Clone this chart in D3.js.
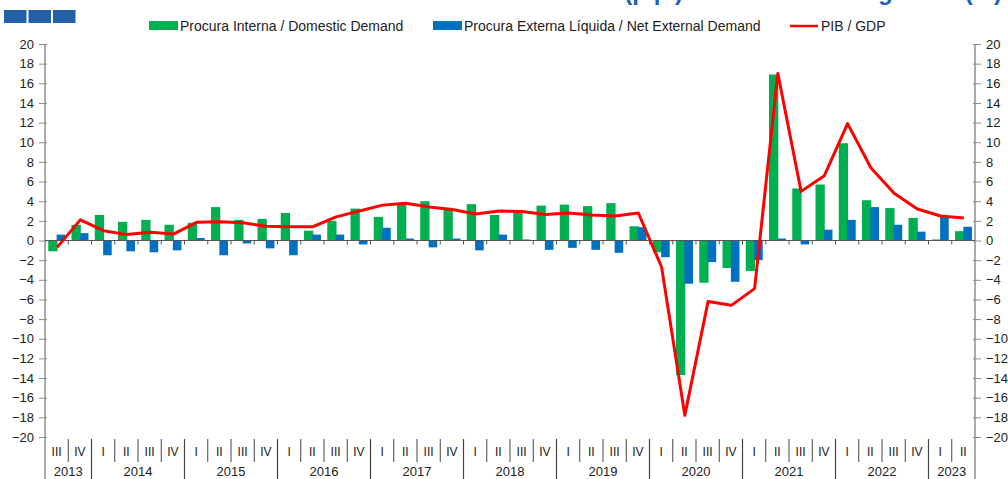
<!DOCTYPE html>
<html>
<head>
<meta charset="utf-8">
<script src="https://cdn.jsdelivr.net/npm/d3@7"></script>
<style>
  body { margin: 0; background: #fff; }
  svg { display: block; font-family: "Liberation Sans", Arial, sans-serif; }
</style>
</head>
<body>
<div class="chartWrapper"></div>
<script>
const width = 1008, height = 479;

// quarters from 2013 III to 2023 II
const quarterLabels = [
  "III", "IV",
  "I", "II", "III", "IV", "I", "II", "III", "IV", "I", "II", "III", "IV",
  "I", "II", "III", "IV", "I", "II", "III", "IV", "I", "II", "III", "IV",
  "I", "II", "III", "IV", "I", "II", "III", "IV", "I", "II", "III", "IV",
  "I", "II"
];
const yearLabels = ["2013", "2014", "2015", "2016", "2017", "2018", "2019", "2020", "2021", "2022", "2023"];
const quartersInYear = [2, 4, 4, 4, 4, 4, 4, 4, 4, 4, 2];

const domesticDemand = [
  -1.1, 1.6,
  2.6, 1.9, 2.1, 1.6,
  1.8, 3.4, 2.1, 2.2,
  2.8, 1.0, 2.0, 3.25,
  2.4, 3.7, 4.0, 3.2,
  3.7, 2.6, 2.9, 3.55,
  3.65, 3.5, 3.8, 1.45,
  -1.2, -13.7, -4.3, -2.8,
  -3.1, 16.9, 5.3, 5.7,
  9.9, 4.1, 3.3, 2.3,
  0.1, 0.95
];
const netExternalDemand = [
  0.6, 0.75,
  -1.5, -1.1, -1.2, -1.0,
  0.25, -1.5, -0.3, -0.8,
  -1.5, 0.6, 0.6, -0.4,
  1.3, 0.2, -0.7, 0.2,
  -1.0, 0.6, 0.1, -0.95,
  -0.75, -0.95, -1.25, 1.35,
  -1.7, -4.4, -2.2, -4.2,
  -2.0, 0.2, -0.4, 1.1,
  2.1, 3.4, 1.6, 0.9,
  2.4, 1.4
];
const gdp = [
  -0.7, 2.1,
  1.0, 0.6, 0.85, 0.65,
  1.85, 1.9, 1.8, 1.45,
  1.4, 1.4, 2.4, 3.0,
  3.6, 3.8, 3.4, 3.15,
  2.7, 3.0, 2.95, 2.65,
  2.8, 2.6, 2.5, 2.8,
  -2.7, -17.8, -6.2, -6.6,
  -4.9, 17.0, 5.0, 6.6,
  11.9, 7.4, 4.8, 3.2,
  2.5, 2.3
];

const legendItems = [
  { label: "Procura Interna / Domestic Demand", color: "#00b050", type: "bar", x: 149 },
  { label: "Procura Externa Líquida / Net External Demand", color: "#0070c0", type: "bar", x: 433 },
  { label: "PIB / GDP", color: "#ff0000", type: "line", x: 790 }
];

const plotLeft = 45, plotRight = 975, plotTop = 44, plotBottom = 437;
const axisColor = "#8c8c8c";

const svg = d3.select(".chartWrapper").append("svg")
  .attr("width", width)
  .attr("height", height);

const x = d3.scaleBand()
  .domain(d3.range(quarterLabels.length))
  .range([plotLeft, plotRight])
  .padding(0);

const y = d3.scaleLinear()
  .domain([-20, 20])
  .range([plotBottom, plotTop]);

const bw = x.bandwidth();

// title sits above the top edge; only its descenders show, as in the source
svg.append("text")
  .attr("x", 683).attr("y", -0.5)
  .attr("text-anchor", "end")
  .attr("font-size", 24).attr("font-weight", "bold")
  .attr("fill", "#1f5fb4")
  .text("Contributos ao PIB (p.p.)");
svg.append("text")
  .attr("x", 1002).attr("y", -0.5)
  .attr("text-anchor", "end")
  .attr("font-size", 24).attr("font-weight", "bold")
  .attr("fill", "#1f5fb4")
  .text("Real GDP growth (%)");

// three squares, top left
svg.selectAll("rect.logo")
  .data([0, 1, 2])
  .join("rect")
  .attr("class", "logo")
  .attr("x", d => 4 + d * 24.5)
  .attr("y", 10)
  .attr("width", 22.5)
  .attr("height", 13)
  .attr("fill", "#2360a8");

// legend
const legend = svg.append("g").attr("class", "legend");
legendItems.forEach(item => {
  if (item.type === "bar") {
    legend.append("rect")
      .attr("x", item.x).attr("y", 21)
      .attr("width", 29).attr("height", 9)
      .attr("fill", item.color);
  } else {
    legend.append("line")
      .attr("x1", item.x).attr("x2", item.x + 28)
      .attr("y1", 26).attr("y2", 26)
      .attr("stroke", item.color).attr("stroke-width", 2.5);
  }
  legend.append("text")
    .attr("x", item.x + 31).attr("y", 31)
    .attr("font-size", 14)
    .attr("fill", "#222")
    .text(item.label);
});

// left axis
const leftAxis = svg.append("g")
  .attr("transform", `translate(${plotLeft},0)`)
  .call(d3.axisLeft(y).tickValues(d3.range(-20, 21, 2)).tickSize(6).tickPadding(5));
leftAxis.select(".domain").remove();
leftAxis.selectAll(".tick line").attr("stroke", axisColor).attr("x2", -6).attr("x1", 2);
leftAxis.selectAll("text").attr("font-size", 13).attr("fill", "#222")
  .attr("font-family", "Liberation Sans, Arial, sans-serif");

// right axis
const rightAxis = svg.append("g")
  .attr("transform", `translate(${plotRight},0)`)
  .call(d3.axisRight(y).tickValues(d3.range(-20, 21, 2)).tickSize(6).tickPadding(5));
rightAxis.select(".domain").remove();
rightAxis.selectAll(".tick line").attr("stroke", axisColor).attr("x1", -2);
rightAxis.selectAll("text").attr("font-size", 13).attr("fill", "#222")
  .attr("font-family", "Liberation Sans, Arial, sans-serif");

// vertical axis lines
svg.append("line")
  .attr("x1", plotLeft).attr("x2", plotLeft)
  .attr("y1", plotTop).attr("y2", height)
  .attr("stroke", axisColor).attr("stroke-width", 1.5);
svg.append("line")
  .attr("x1", plotRight).attr("x2", plotRight)
  .attr("y1", plotTop).attr("y2", height)
  .attr("stroke", axisColor).attr("stroke-width", 1.5);

// bars
svg.append("g").selectAll("rect")
  .data(domesticDemand)
  .join("rect")
  .attr("x", (d, i) => x(i) + bw * 0.14)
  .attr("y", d => y(Math.max(0, d)))
  .attr("width", bw * 0.4)
  .attr("height", d => Math.abs(y(d) - y(0)))
  .attr("fill", "#00b050");

svg.append("g").selectAll("rect")
  .data(netExternalDemand)
  .join("rect")
  .attr("x", (d, i) => x(i) + bw * 0.5)
  .attr("y", d => y(Math.max(0, d)))
  .attr("width", bw * 0.37)
  .attr("height", d => Math.abs(y(d) - y(0)))
  .attr("fill", "#0070c0");

// zero line with small ticks at quarter boundaries
svg.append("line")
  .attr("x1", plotLeft).attr("x2", plotRight)
  .attr("y1", y(0)).attr("y2", y(0))
  .attr("stroke", "#555").attr("stroke-width", 1.2);
svg.append("g").selectAll("line")
  .data(d3.range(1, quarterLabels.length))
  .join("line")
  .attr("x1", i => x(i)).attr("x2", i => x(i))
  .attr("y1", y(0)).attr("y2", y(0) + 4)
  .attr("stroke", "#555");

// GDP line
const gdpLine = d3.line()
  .x((d, i) => x(i) + bw * 0.52)
  .y(d => y(d));

svg.append("path")
  .datum(gdp)
  .attr("d", gdpLine)
  .attr("fill", "none")
  .attr("stroke", "#ff0000")
  .attr("stroke-width", 3)
  .attr("stroke-linejoin", "round");

// category table below the plot
const tableTop = plotBottom + 2, quarterRowBottom = 462;
svg.append("g").selectAll("line")
  .data(d3.range(1, quarterLabels.length))
  .join("line")
  .attr("x1", i => x(i)).attr("x2", i => x(i))
  .attr("y1", tableTop).attr("y2", quarterRowBottom)
  .attr("stroke", "#444").attr("stroke-width", 1);

svg.append("g").selectAll("text")
  .data(quarterLabels)
  .join("text")
  .attr("x", (d, i) => x(i) + bw / 2)
  .attr("y", 456)
  .attr("text-anchor", "middle")
  .attr("font-size", 12)
  .attr("fill", "#222")
  .text(d => d);

const yearStarts = d3.cumsum([0].concat(quartersInYear));
svg.append("g").selectAll("line")
  .data(yearStarts.slice(1, -1))
  .join("line")
  .attr("x1", i => x(i)).attr("x2", i => x(i))
  .attr("y1", tableTop).attr("y2", height)
  .attr("stroke", "#444").attr("stroke-width", 1.2);

svg.append("g").selectAll("text")
  .data(yearLabels)
  .join("text")
  .attr("x", (d, k) => (x(yearStarts[k]) + x(yearStarts[k + 1] - 1) + bw) / 2)
  .attr("y", 476)
  .attr("text-anchor", "middle")
  .attr("font-size", 13)
  .attr("fill", "#222")
  .text(d => d);
</script>
</body>
</html>
